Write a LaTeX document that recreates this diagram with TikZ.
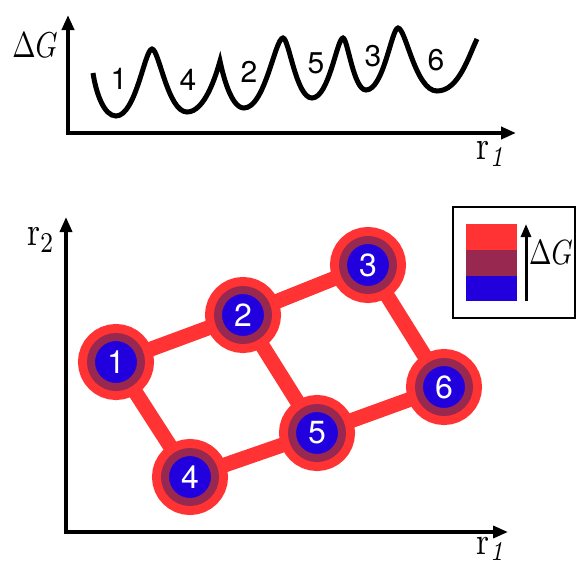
\documentclass[tikz,border=0pt]{standalone}
\usepackage{fontspec}
\newfontfamily\heros{TeX Gyre Heros}
\usetikzlibrary{arrows.meta,backgrounds}
\definecolor{ringred}{RGB}{255,51,51}
\definecolor{ringpurple}{RGB}{153,40,80}
\definecolor{coreblue}{RGB}{34,0,221}
\begin{document}
\begin{tikzpicture}[x=1pt,y=-1pt,
  axis/.style={line width=4pt,line join=miter,{Triangle[length=15pt,width=12pt]}-{Triangle[length=15pt,width=12pt]}},
  baxis/.style={line width=3.5pt,line join=miter,{Triangle[length=15pt,width=12pt]}-{Triangle[length=15pt,width=12pt]}},
  state/.style={circle,inner sep=0pt,minimum size=50pt,fill=coreblue,draw=ringpurple,line width=8pt,
    preaction={draw=ringred,line width=26pt},text=white,font=\heros\fontsize{32}{32}\selectfont},
  edge/.style={draw=ringred,line width=15pt},
  lbl/.style={inner sep=0pt,font=\heros\fontsize{30}{30}\selectfont},
  mlbl/.style={inner sep=0pt},
  curve/.style={line width=5pt,line cap=butt}
]
\useasboundingbox (0,0) rectangle (578,566);

% ---- top plot ----
\coordinate (ty) at (68,15);
\coordinate (to) at (68,133);
\coordinate (tx) at (516,133);
\draw[axis] (ty) -- (to) -- (tx);
\node[mlbl] (dgtop) at (35,45) {\scalebox{2.8}[3.6]{$\Delta G$}};
\node[mlbl] (r1top) at (491,154) {\scalebox{3.3}[4.1]{$\mathrm{r}_{\mathit{1}}$}};

\draw[curve] (93,73) .. controls (96,93) and (104,116) .. (116,116)
  .. controls (135.8,116) and (144.8,49) .. (152,49)
  .. controls (159,49) and (167.75,112) .. (187,112)
  .. controls (205,112) and (216,75) .. (220,61)
  .. controls (223,75) and (231,108) .. (244,108)
  .. controls (265,108) and (275,38) .. (283,38)
  .. controls (289,38) and (296,98) .. (312,98)
  .. controls (329,98) and (337,38) .. (343,38)
  .. controls (347.6,38) and (353.4,90) .. (366,90)
  .. controls (383.6,90) and (391.6,28) .. (398,28)
  .. controls (405.8,28) and (415.5,91) .. (437,91)
  .. controls (459,91) and (469,55) .. (477,39);

\node[lbl] (c1) at (119,79) {1};
\node[lbl] (c4) at (188,80) {4};
\node[lbl] (c2) at (249,72) {2};
\node[lbl] (c5) at (316,63) {5};
\node[lbl] (c3) at (373,56) {3};
\node[lbl] (c6) at (436,60) {6};

% ---- bottom plot ----
\coordinate (by) at (66,217);
\coordinate (bo) at (66,532);
\coordinate (bx) at (508,532);
\draw[baxis] (by) -- (bo) -- (bx);
\node[mlbl] (r2) at (41,240) {\scalebox{3.3}[4.1]{$\mathrm{r}_2$}};
\node[mlbl] (r1b) at (491,549) {\scalebox{3.3}[3.9]{$\mathrm{r}_{\mathit{1}}$}};

\node[state] (n1) at (116,362) {1};
\node[state] (n2) at (243,315) {2};
\node[state] (n3) at (368,265) {3};
\node[state] (n4) at (190,477) {4};
\node[state] (n5) at (317,433) {5};
\node[state] (n6) at (444,387) {6};

\begin{scope}[on background layer]
\draw[edge] (n1) -- (n2);
\draw[edge] (n2) -- (n3);
\draw[edge] (n1) -- (n4);
\draw[edge] (n2) -- (n5);
\draw[edge] (n3) -- (n6);
\draw[edge] (n4) -- (n5);
\draw[edge] (n5) -- (n6);
\end{scope}

% ---- legend ----
\draw[line width=1.5pt] (453,207) rectangle (575,318);
\fill[ringred] (466,224) rectangle (517,250);
\fill[ringpurple] (466,250) rectangle (517,276);
\fill[coreblue] (466,276) rectangle (517,301);
\coordinate (la) at (526,301);
\coordinate (lb) at (526,224);
\draw[line width=3pt,-{Triangle[length=13pt,width=10pt]}] (la) -- (lb);
\node[mlbl] (dgleg) at (551,253) {\scalebox{2.7}[3.5]{$\Delta G$}};
\end{tikzpicture}
\end{document}
